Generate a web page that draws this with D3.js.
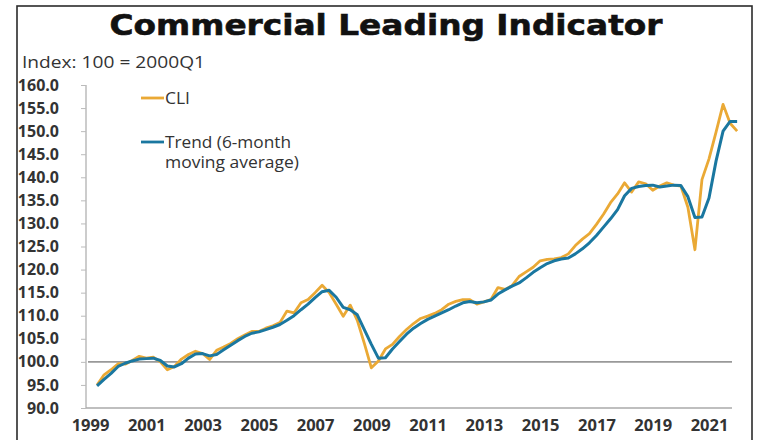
<!DOCTYPE html>
<html><head><meta charset="utf-8">
<script src="https://cdn.jsdelivr.net/npm/d3@7"></script>
<style>body{margin:0;background:#fff}svg{display:block}</style>
</head><body>
<svg id="c" width="760" height="440"></svg>
<script>
// Quarterly data starting 1999 Q2
const startYear = 1999.25;
const cliValues = [
  95.0, 97.2, 98.3, 99.6, 99.5, 100.3, 101.2, 100.8, 101.0, 100.0,
  98.3, 99.0, 100.6, 101.6, 102.3, 101.8, 100.5, 102.5, 103.2, 104.0,
  105.0, 105.8, 106.6, 106.6, 107.3, 107.8, 108.5, 111.0, 110.6, 112.8,
  113.5, 115.0, 116.6, 115.0, 112.5, 109.9, 112.3, 109.0, 104.0, 98.7,
  100.2, 102.8, 103.8, 105.5, 107.0, 108.3, 109.4, 109.9, 110.5, 111.3,
  112.5, 113.1, 113.5, 113.5, 112.5, 113.0, 113.5, 116.1, 115.7, 116.5,
  118.5, 119.5, 120.5, 121.9, 122.2, 122.3, 122.6, 123.4, 125.2, 126.6,
  127.8, 129.8, 132.0, 134.5, 136.4, 138.8, 136.8, 139.0, 138.6, 137.2,
  138.1, 138.8, 138.3, 138.1, 133.5, 124.3, 139.5, 144.0, 149.8, 155.8,
  151.7, 150.0
];
const trendValues = [
  94.8, 96.2, 97.5, 99.0, 99.7, 100.2, 100.6, 100.7, 100.8, 100.3,
  99.1, 98.9, 99.6, 100.8, 101.7, 101.8, 101.3, 101.6, 102.6, 103.6,
  104.6, 105.5, 106.2, 106.5, 107.0, 107.5, 108.1, 109.0, 110.0, 111.3,
  112.5, 113.9, 115.2, 115.5, 114.0, 111.8, 111.3, 110.2, 107.0, 103.8,
  100.8, 100.9, 102.8, 104.4, 106.0, 107.3, 108.3, 109.2, 109.9, 110.6,
  111.3, 112.1, 112.8, 113.1, 112.8, 113.0, 113.4, 114.7, 115.6, 116.4,
  117.1, 118.2, 119.4, 120.4, 121.3, 121.9, 122.3, 122.5, 123.4, 124.5,
  125.8, 127.4, 129.2, 131.0, 133.0, 136.0, 137.6, 138.0, 138.2, 138.3,
  137.9, 138.1, 138.3, 138.2, 135.8, 131.3, 131.4, 135.5, 143.5, 150.0,
  152.1, 152.1
];
const xTickYears = [1999, 2001, 2003, 2005, 2007, 2009, 2011, 2013, 2015, 2017, 2019, 2021];
const yTickValues = [90, 95, 100, 105, 110, 115, 120, 125, 130, 135, 140, 145, 150, 155, 160];
const seriesNames = ["CLI", "Trend (6-month|moving average)"];
const titleText = "Commercial Leading Indicator";
const subtitleText = "Index: 100 = 2000Q1";

const colCLI = "#EAA935", colTrend = "#1A77A0";
const svg = d3.select("#c");

// frame
svg.append("rect").attr("x", 17).attr("y", 6).attr("width", 735).attr("height", 450)
  .attr("fill", "none").attr("stroke", "#2b2b2b").attr("stroke-width", 1.6);

const x = d3.scaleLinear().domain([1999, 2021]).range([90, 709]);
const y = d3.scaleLinear().domain([90, 160]).range([408, 85]);
const plotL = 86, plotR = 732;

svg.append("text").attr("x", 386).attr("y", 35).attr("text-anchor", "middle")
  .attr("font-family", "DejaVu Sans").attr("font-weight", "bold").attr("font-size", 29)
  .attr("textLength", 553).attr("lengthAdjust", "spacingAndGlyphs")
  .attr("stroke", "#111").attr("stroke-width", 0.6)
  .attr("fill", "#111").text(titleText);

svg.append("text").attr("x", 22).attr("y", 68)
  .attr("font-family", "Open Sans").attr("font-size", 16.5).attr("fill", "#333")
  .attr("textLength", 183).attr("lengthAdjust", "spacingAndGlyphs").text(subtitleText);

// y axis
const yAxis = svg.append("g").attr("transform", `translate(${plotL},0)`)
  .call(d3.axisLeft(y).tickValues(yTickValues).tickFormat(d3.format(".1f")).tickSize(5).tickPadding(22));
yAxis.select(".domain").attr("stroke", "#aaa").attr("stroke-width", 1.2).attr("d", `M0,${y(160)}V${y(90)}`);
yAxis.selectAll(".tick line").attr("stroke", "#bbb");
yAxis.selectAll(".tick text").attr("font-family", "Open Sans").attr("font-weight", 700)
  .attr("font-size", 16).attr("fill", "#333");

// x axis
const xAxis = svg.append("g").attr("transform", `translate(0,${y(90)})`)
  .call(d3.axisBottom(x).tickValues(xTickYears).tickFormat(d3.format("d")).tickSize(0).tickPadding(11));
xAxis.select(".domain").attr("stroke", "#aaa").attr("stroke-width", 1.5).attr("d", `M${plotL},0H${plotR}`);
xAxis.selectAll(".tick text").attr("font-family", "Open Sans").attr("font-weight", 700)
  .attr("font-size", 16.5).attr("fill", "#333");

// reference line at 100
svg.append("line").attr("x1", plotL + 2).attr("x2", plotR).attr("y1", y(100)).attr("y2", y(100))
  .attr("stroke", "#999").attr("stroke-width", 1.6);

const line = d3.line().x((d, i) => x(startYear + 0.25 * i)).y(d => y(d));
svg.append("path").datum(cliValues).attr("d", line).attr("fill", "none")
  .attr("stroke", colCLI).attr("stroke-width", 2.8).attr("stroke-linejoin", "round");
svg.append("path").datum(trendValues).attr("d", line).attr("fill", "none")
  .attr("stroke", colTrend).attr("stroke-width", 3).attr("stroke-linejoin", "round");

// legend
const legWidths = [[25], [126, 134]];
const leg = [{c: colCLI, y: 98, lines: seriesNames[0].split("|"), w: legWidths[0]},
             {c: colTrend, y: 142, lines: seriesNames[1].split("|"), w: legWidths[1]}];
leg.forEach(l => {
  svg.append("line").attr("x1", 141).attr("x2", 164).attr("y1", l.y).attr("y2", l.y)
    .attr("stroke", l.c).attr("stroke-width", 2.8);
  l.lines.forEach((t, k) => {
    svg.append("text").attr("x", 165).attr("y", l.y + 5.5 + k * 20)
      .attr("font-family", "Open Sans").attr("font-size", 16).attr("fill", "#333")
      .attr("textLength", l.w[k]).attr("lengthAdjust", "spacingAndGlyphs").text(t);
  });
});
</script>
</body></html>
